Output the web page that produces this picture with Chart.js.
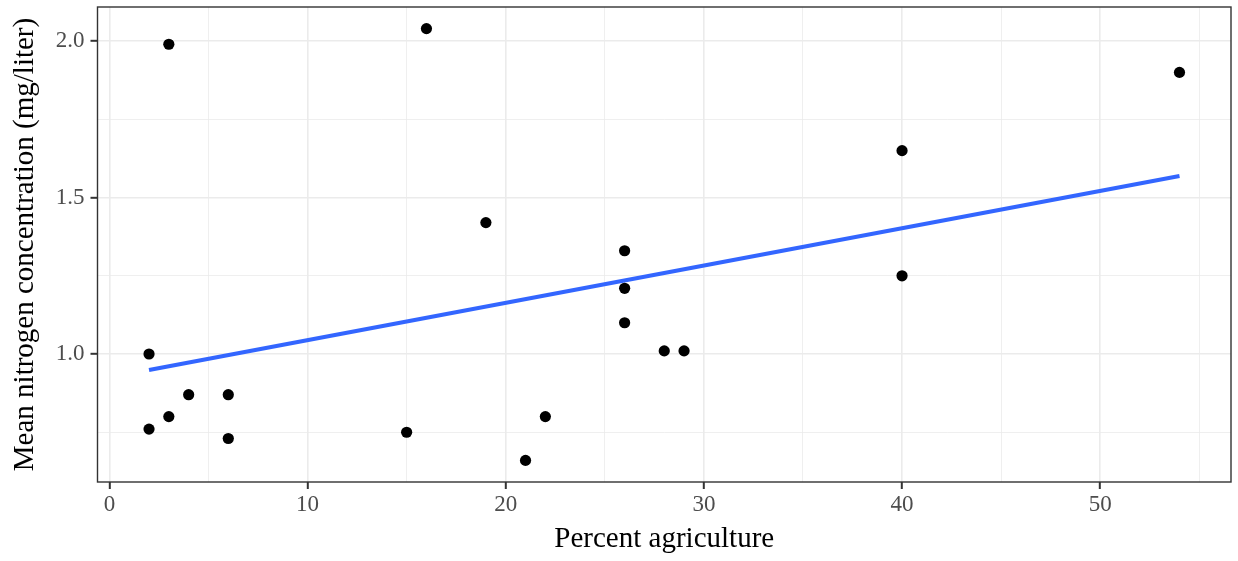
<!DOCTYPE html>
<html><head><meta charset="utf-8">
<script src="https://cdn.jsdelivr.net/npm/chart.js@4"></script>
<style>html,body{margin:0;padding:0;background:#fff}#wrap{width:1238px;height:561px}</style>
</head><body><div id="wrap"><canvas id="c" width="1238" height="561"></canvas></div>
<script>
const percentAg = [2, 2, 3, 3, 4, 6, 6, 15, 16, 19, 21, 22, 26, 26, 26, 28, 29, 40, 40, 54];
const nitrogen = [1.00, 0.76, 0.80, 1.99, 0.87, 0.87, 0.73, 0.75, 2.04, 1.42, 0.66, 0.80, 1.33, 1.21, 1.10, 1.01, 1.01, 1.65, 1.25, 1.90];
const fitX = [2, 54];
const fitY = [0.949, 1.569];
const xTicks = [0, 5, 10, 15, 20, 25, 30, 35, 40, 45, 50, 55];
const xMajor = [0, 10, 20, 30, 40, 50];
const yTicks = [0.75, 1.0, 1.25, 1.5, 1.75, 2.0];
const yMajor = [1.0, 1.5, 2.0];

const isMajor = (arr, v) => arr.some(m => Math.abs(m - v) < 1e-9);

const borderPlugin = {
  id: 'panelBorder',
  afterDatasetsDraw(chart) {
    const a = chart.chartArea, ctx = chart.ctx;
    ctx.save();
    ctx.strokeStyle = '#333333';
    ctx.lineWidth = 1.4;
    ctx.strokeRect(a.left, a.top, a.right - a.left, a.bottom - a.top);
    ctx.restore();
  }
};

new Chart(document.getElementById('c'), {
  data: {
    datasets: [
      {
        type: 'scatter',
        data: percentAg.map((x, i) => ({x, y: nitrogen[i]})),
        backgroundColor: '#000000', borderColor: '#000000',
        pointRadius: 5.6, borderWidth: 0, order: 1
      },
      {
        type: 'line',
        data: fitX.map((x, i) => ({x, y: fitY[i]})),
        borderColor: '#3366FF', borderWidth: 4, pointRadius: 0,
        fill: false, order: 2
      }
    ]
  },
  options: {
    responsive: false, animation: false,
    layout: {padding: {left: 0, right: 7, top: 7, bottom: 0}},
    plugins: {legend: {display: false}, tooltip: {enabled: false}},
    scales: {
      x: {
        type: 'linear', min: -0.6, max: 56.6,
        afterBuildTicks: s => { s.ticks = xTicks.map(v => ({value: v})); },
        afterFit: s => { s.height = 79; s.paddingLeft = 0; s.paddingRight = 0; },
        ticks: {
          autoSkip: false, maxRotation: 0, padding: 2,
          color: '#4D4D4D', font: {family: 'Liberation Serif', size: 23},
          callback: v => isMajor(xMajor, v) ? String(v) : ''
        },
        grid: {
          drawOnChartArea: true, drawTicks: true, tickLength: 7,
          color: c => '#EBEBEB',
          lineWidth: c => isMajor(xMajor, c.tick.value) ? 1.6 : 0.8,
          tickColor: c => isMajor(xMajor, c.tick.value) ? '#333333' : 'rgba(0,0,0,0)',
          tickWidth: 2
        },
        border: {display: false},
        title: {display: true, text: 'Percent agriculture', color: '#000000',
          font: {family: 'Liberation Serif', size: 29}, padding: {top: 0, bottom: 4}}
      },
      y: {
        type: 'linear', min: 0.591, max: 2.109,
        afterBuildTicks: s => { s.ticks = yTicks.map(v => ({value: v})); },
        afterFit: s => { s.width = 97.5; s.paddingTop = 0; s.paddingBottom = 0; },
        ticks: {
          autoSkip: false, padding: 6,
          color: '#4D4D4D', font: {family: 'Liberation Serif', size: 23},
          callback: v => isMajor(yMajor, v) ? v.toFixed(1) : ''
        },
        grid: {
          drawOnChartArea: true, drawTicks: true, tickLength: 7,
          color: c => '#EBEBEB',
          lineWidth: c => isMajor(yMajor, c.tick.value) ? 1.6 : 0.8,
          tickColor: c => isMajor(yMajor, c.tick.value) ? '#333333' : 'rgba(0,0,0,0)',
          tickWidth: 2
        },
        border: {display: false},
        title: {display: true, text: 'Mean nitrogen concentration (mg/liter)', color: '#000000',
          font: {family: 'Liberation Serif', size: 29}, padding: {top: 8, bottom: 4}}
      }
    }
  },
  plugins: [borderPlugin]
});
</script>
</body></html>
